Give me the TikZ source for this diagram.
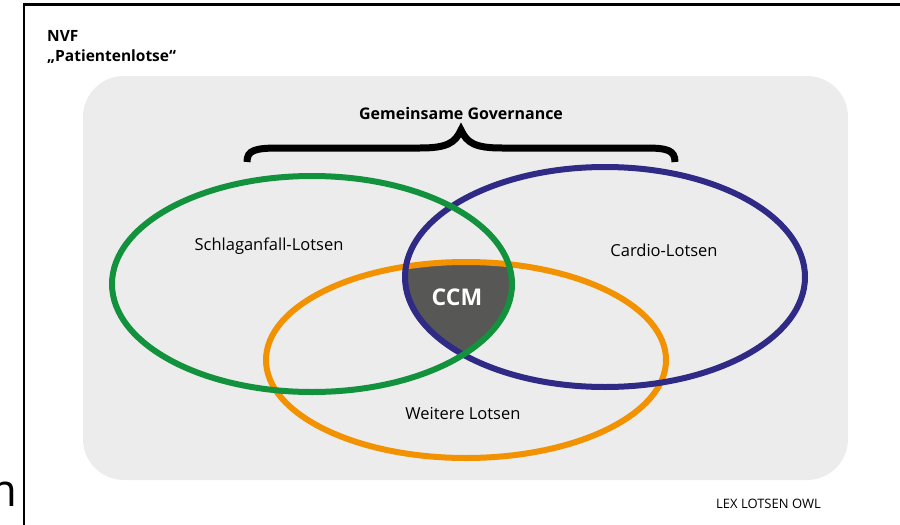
\documentclass[tikz,border=0pt]{standalone}
\usepackage{fontspec}
\setmainfont{Open Sans}
\usepackage{tikz}
\usetikzlibrary{positioning}
\definecolor{lotsengreen}{HTML}{13923D}
\definecolor{lotsenblue}{HTML}{2E2A85}
\definecolor{lotsenorange}{HTML}{F39200}
\definecolor{ccmgray}{HTML}{575756}
\definecolor{panelgray}{HTML}{ECECEC}

\begin{document}
\begin{tikzpicture}[x=1pt,y=-1pt,ring/.style={line width=6pt},
		lotse/.style={inner sep=0pt,font=\fontsize{16.5}{19}\selectfont},
		kopf/.style={inner sep=0pt,anchor=base west,font=\bfseries\fontsize{15.5}{18}\selectfont}]
			\useasboundingbox (0,0) rectangle (900,525);
			% frame and panel
			\draw[line width=2.7pt] (24,530) -- (24,4.5) -- (905,4.5);
			\fill[panelgray,rounded corners=41pt] (83,76) rectangle (848,480);

			\node[kopf]          (nvf)  at (47,41)    {NVF};
			\node[kopf]          (pat)  at (47,61)    {„Patientenlotse“};
			\node[inner sep=0pt,anchor=base east,font=\fontsize{45}{50}\selectfont] (cut) at (18,506) {m};
			\node[inner sep=0pt,anchor=base east,font=\fontsize{13}{15}\selectfont] (owl) at (821,508) {LEX LOTSEN OWL};

			\coordinate (schlag)  at (312,284);
			\coordinate (cardio)  at (605,277);
			\coordinate (weitere) at (466,360);

			% CCM = all three rings
			\begin{scope}
				\clip (schlag) ellipse [x radius=200pt, y radius=108pt];
				\clip (cardio) ellipse [x radius=200pt, y radius=110pt];
				\fill[ccmgray] (weitere) ellipse [x radius=200pt, y radius=98pt];
			\end{scope}
			\draw[ring,lotsenorange] (weitere) ellipse [x radius=200pt, y radius=98pt];
			\draw[ring,lotsenblue]   (cardio)  ellipse [x radius=200pt, y radius=110pt];
			\draw[ring,lotsengreen]  (schlag)  ellipse [x radius=200pt, y radius=108pt];

			\tikzset{every node/.append style={lotse}}
			\node (l1) at (269,246) {Schlaganfall-Lotsen};
			\node (l2) at (664,250) {Cardio-Lotsen};
			\node (l3) at (463,414) {Weitere Lotsen};
			\node[text=white,font=\bfseries\fontsize{23}{26}\selectfont] (ccm) at (457,297) {CCM};

			% brace
			\coordinate (tip) at (461,130);
			\draw[line width=7pt,line join=miter] (247,162) .. controls (247,150) and (255,148) .. (280,148) -- (420,148)
				.. controls (447,148) and (455,143) .. (tip) .. controls (467,143) and (475,148) .. (502,148) -- (645,148)
				.. controls (667,148) and (675,150) .. (675,162);
			\node[font=\bfseries\fontsize{16}{19}\selectfont] (gov) [above=10pt of tip] {Gemeinsame Governance};
		\end{tikzpicture}
\end{document}
